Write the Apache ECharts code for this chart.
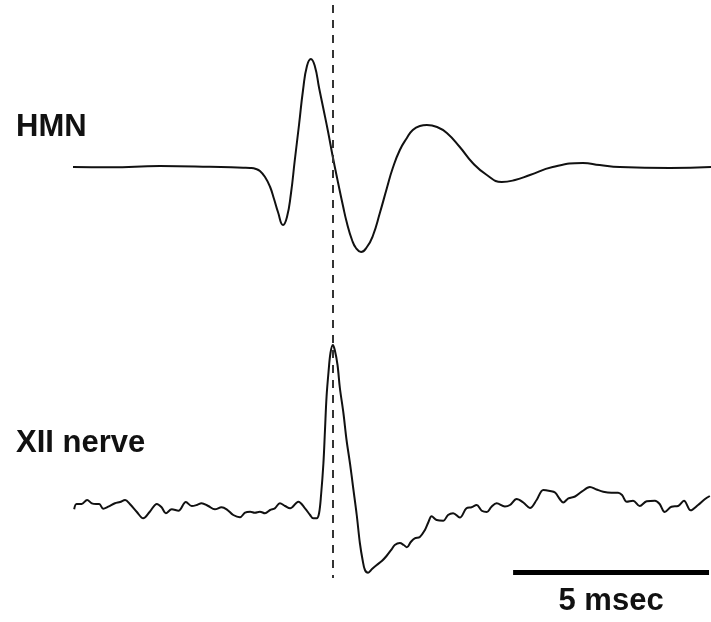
<!DOCTYPE html>
<html><head><meta charset="utf-8">
<script src="https://cdn.jsdelivr.net/npm/echarts@6/dist/echarts.min.js"></script>
<style>html,body{margin:0;padding:0;background:#fff}#c{width:711px;height:622px}</style>
</head><body><div id="c"></div>
<script>
// time in msec, amplitude in arbitrary units (baseline = 0)
const hmnTime = [0,0.94,2.22,3.49,4.34,4.52,4.67,4.77,4.90,5.03,5.13,5.23,5.36,5.46,5.56,5.66,5.77,5.87,5.97,6.07,6.17,6.28,6.38,6.51,6.63,6.76,6.89,6.99,7.12,7.22,7.35,7.50,7.65,7.83,8.01,8.16,8.34,8.52,8.67,8.85,9.03,9.29,9.54,9.87,10.20,10.56,10.94,11.28,11.66,12.24,13.01,13.44,13.95,15.23,16.28];
const hmnAmp = [0,-0.3,1,0.3,-0.7,-1,-2,-4,-10,-20,-32,-45,-58,-50,-27,7,43,77,101,108,101,79,60,35,10,-15,-39,-56,-73,-81,-85,-80,-69,-46,-21,-1,17,29,37,41,42,40,34,20,4,-8,-15,-13,-8,0,4,2,0,-1,0];

const xiiTime = [0.03,0.09,0.22,0.36,0.48,0.59,0.67,0.77,0.90,1.07,1.20,1.33,1.45,1.63,1.79,1.96,2.14,2.26,2.37,2.52,2.69,2.88,3.03,3.16,3.28,3.45,3.62,3.79,3.92,4.09,4.26,4.39,4.52,4.64,4.77,4.90,5.03,5.15,5.28,5.41,5.54,5.75,5.92,6.05,6.13,6.22,6.28,6.33,6.39,6.43,6.47,6.52,6.57,6.63,6.68,6.75,6.81,6.90,6.98,7.07,7.15,7.24,7.32,7.39,7.45,7.53,7.63,7.75,7.88,8.00,8.13,8.21,8.34,8.44,8.52,8.62,8.72,8.85,8.98,9.07,9.15,9.28,9.45,9.57,9.70,9.87,10.04,10.17,10.30,10.43,10.56,10.68,10.81,11.02,11.15,11.32,11.49,11.66,11.83,12.00,12.17,12.30,12.42,12.51,12.64,12.81,12.98,13.19,13.36,13.53,13.74,13.91,14.01,14.13,14.29,14.46,14.64,14.85,14.97,15.10,15.27,15.44,15.59,15.76,15.95,16.12,16.25];
const xiiAmp = [-4.3,1,1,5,1.7,1,1,-3.7,-1.7,1.7,3,5,1,-7,-13.3,-6.7,1,-2.3,-8.3,-4.3,-5.7,3,-1,0,1.7,-1,-4.3,-2.3,-4.3,-10,-12.3,-7.7,-6.7,-7.7,-6.7,-8.3,-5,-3.3,1.7,-1,-3.3,3.3,-3.3,-10,-13.3,-13.3,-8,10,41.7,75,108.3,133,152,160,155,140,117,92,65,41,17,-10,-38,-55,-65,-67.7,-64,-60,-56,-51,-44.3,-40,-38,-40,-42.3,-37,-33.3,-32,-25,-17,-11.3,-15,-15.7,-10,-8.3,-12.5,-3.3,-2.3,0,-5.7,-7,-1.7,1.7,-1.5,0,6,2.5,-3,5,15,14,12.5,6,2.5,6.7,8.5,13.3,18,15.5,13.3,12.3,12.3,10,3.3,4.3,-1,3.7,4.2,1,-7,-1.7,-1,4.3,-5.3,0,5.7,9];

const traceLabels = ['HMN', 'XII nerve'];
const markerTime = 6.63;          // dashed alignment line (msec)
const scaleBarStart = 11.23;      // msec
const scaleBarLength = 5;         // msec
const scaleBarLabel = '5 msec';

const FONT = '"Liberation Sans", Arial, Helvetica, sans-serif';
const zip = (a, b) => a.map((v, i) => [v, b[i]]);

const chart = echarts.init(document.getElementById('c'), null, {renderer: 'canvas'});
chart.setOption({
  animation: false,
  backgroundColor: '#fff',
  grid: {left: 73, right: 0, top: 0, bottom: 0},
  xAxis: {type: 'value', min: 0, max: 16.28, show: false},
  yAxis: [
    {type: 'value', min: -455, max: 167, show: false},
    {type: 'value', min: -117, max: 505, show: false}
  ],
  series: [
    {
      name: traceLabels[0], type: 'line', yAxisIndex: 0, data: zip(hmnTime, hmnAmp),
      showSymbol: false, smooth: 0.5, clip: false,
      lineStyle: {color: '#111', width: 2}
    },
    {
      name: traceLabels[1], type: 'line', yAxisIndex: 1, data: zip(xiiTime, xiiAmp),
      showSymbol: false, smooth: 0.35, clip: false,
      lineStyle: {color: '#111', width: 2},
      markLine: {
        silent: true, symbol: 'none', animation: false,
        data: [
          [{coord: [markerTime, 500], lineStyle: {type: [8, 7], width: 2, color: '#333'}, label: {show: false}},
           {coord: [markerTime, -73]}],
          [{coord: [scaleBarStart, -67], lineStyle: {type: 'solid', width: 5, color: '#000'},
            label: {show: true, formatter: scaleBarLabel, position: 'insideMiddleBottom', distance: 14,
                    color: '#111', fontFamily: FONT, fontWeight: 'bold', fontSize: 31}},
           {coord: [scaleBarStart + scaleBarLength, -67]}]
        ]
      }
    }
  ],
  graphic: [
    {type: 'text', x: 16, y: 127, style: {text: traceLabels[0], fill: '#111', font: 'bold 31px ' + FONT, textVerticalAlign: 'middle'}},
    {type: 'text', x: 16, y: 443, style: {text: traceLabels[1], fill: '#111', font: 'bold 31px ' + FONT, textVerticalAlign: 'middle'}}
  ]
});
</script>
</body></html>
